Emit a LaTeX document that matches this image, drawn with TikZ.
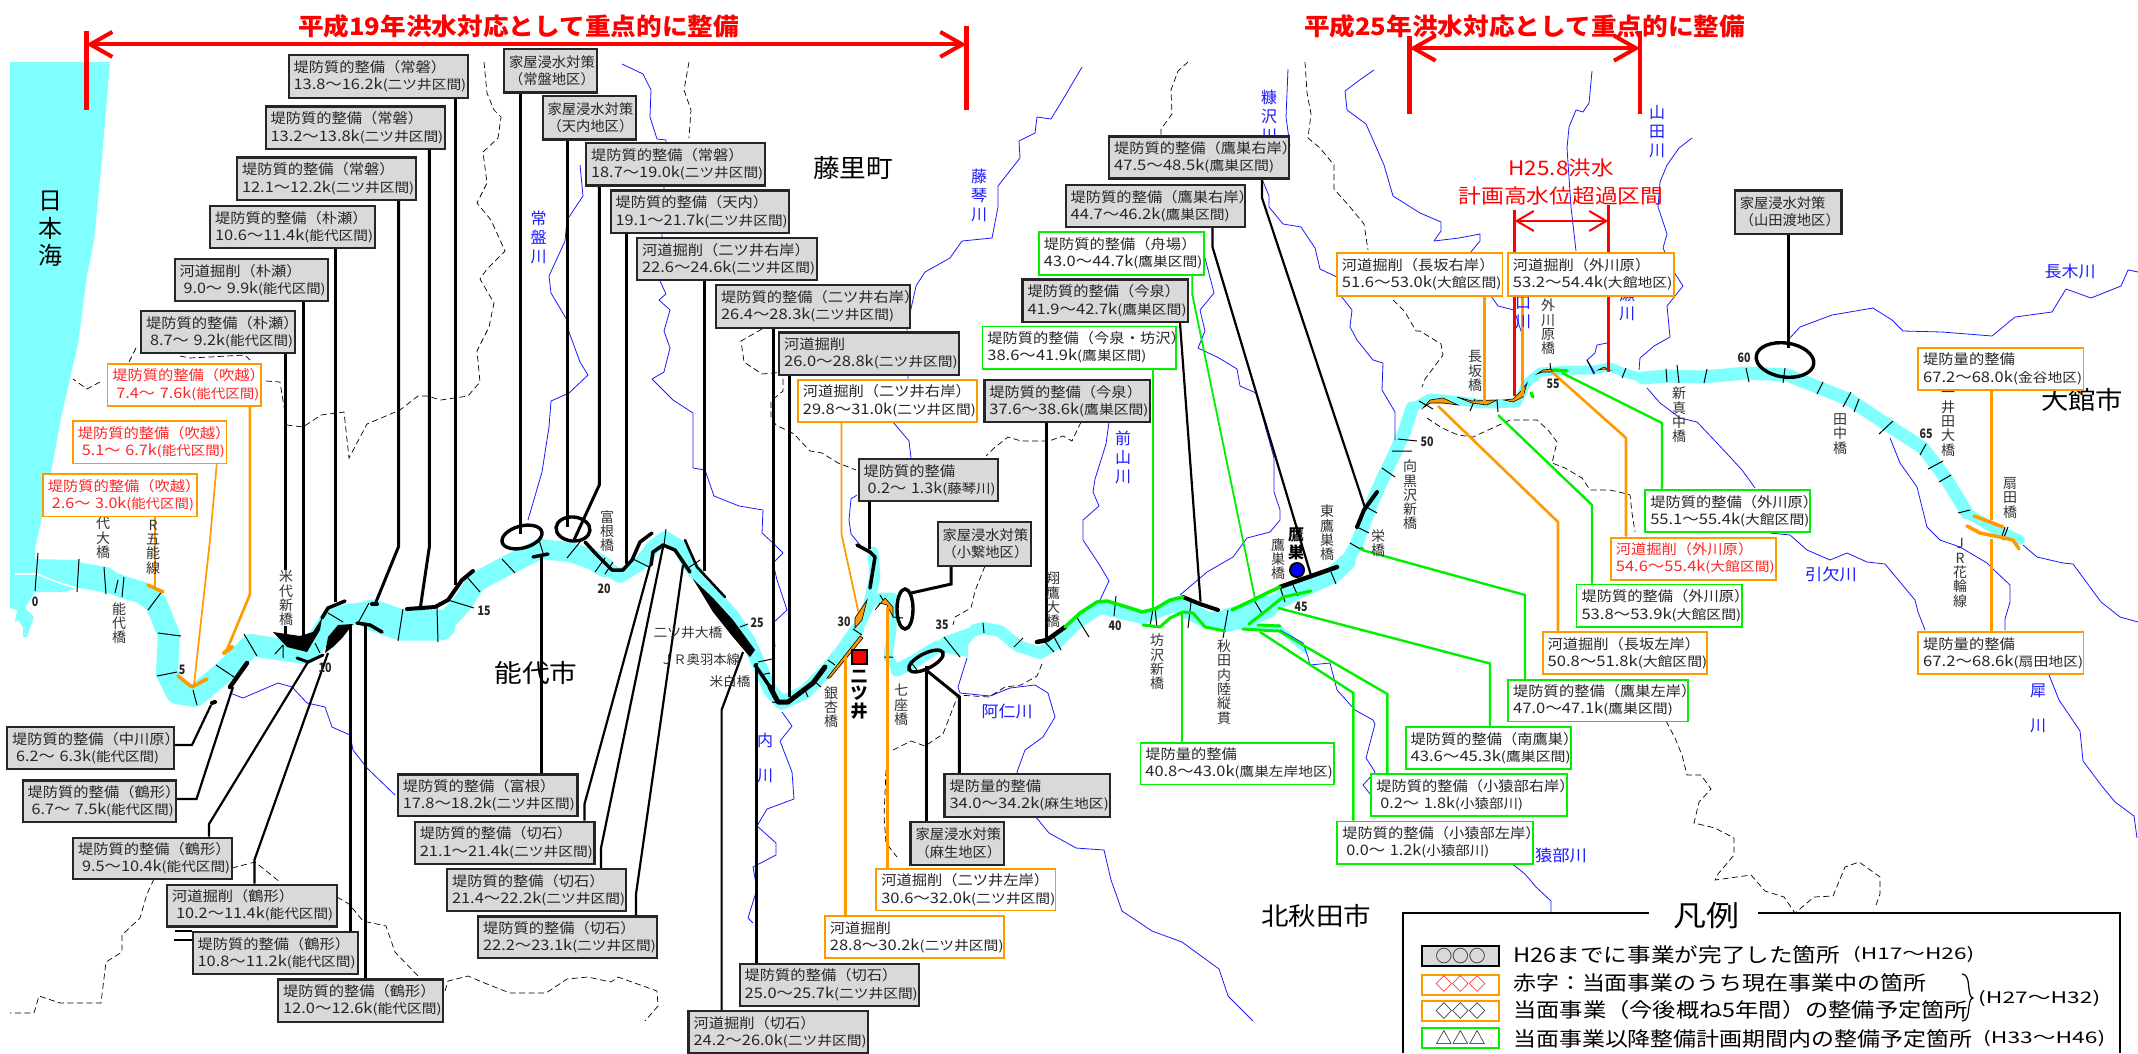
\documentclass[tikz,border=0pt]{standalone}
\usepackage{graphicx}
\usepackage{fontspec}
\setmainfont{Noto Sans CJK JP}
\usetikzlibrary{arrows.meta,shapes.geometric,calc}
\pgfdeclarelayer{bg}\pgfsetlayers{bg,main}
\definecolor{cy}{HTML}{80FFFF}
\definecolor{og}{HTML}{FF9900}
\definecolor{gn}{HTML}{00F000}
\definecolor{gy}{HTML}{D9D9D9}
\definecolor{rd}{HTML}{FF0000}
\definecolor{bu}{HTML}{1A1AFF}
\tikzset{
 basebox/.style={rectangle,inner xsep=5pt,inner ysep=0pt,align=left,font=\fontsize{13}{17.2}\selectfont,text=black!85},
 gbox/.style={basebox,draw=black!85,fill=gy,line width=2.2pt},
 obox/.style={basebox,draw=og,fill=white,line width=1.8pt},
 rbox/.style={basebox,draw=og,fill=white,line width=1.8pt,text=rd!85},
 nbox/.style={basebox,draw=gn,fill=white,line width=1.8pt},
 blk/.style={draw=black,line width=3pt},
 blkt/.style={draw=black,line width=2.2pt},
 org/.style={draw=og,line width=2.6pt},
 orgt/.style={draw=og,line width=1.7pt},
 grn/.style={draw=gn,line width=2.4pt},
 grnt/.style={draw=gn,line width=1.8pt},
 rvr/.style={draw=cy,line cap=round,line join=round},
 lev/.style={draw=black,line cap=round,line join=round},
 ola/.style={draw=og,line cap=round,line join=round},
 gla/.style={draw=gn,line cap=round,line join=round},
 tk/.style={draw=black,line width=1pt},
 crs/.style={draw=black,fill=og,line width=.6pt},
 wat/.style={draw=bu,line width=.8pt,line join=round},
 bnd/.style={draw=black,line width=.7pt,dash pattern=on 6pt off 3.5pt},
 ell/.style={ellipse,draw=black,line width=3.4pt,inner sep=0pt},
 vt/.style={align=center,inner sep=0pt,font=\fontsize{14}{14.3}\selectfont,text=black!80},
 kmn/.style={inner sep=0pt,font=\fontsize{13}{13}\selectfont\bfseries,text=black!85},
 blu/.style={align=center,inner sep=0pt,font=\fontsize{16}{19}\selectfont,text=bu},
 plc/.style={align=center,inner sep=0pt,text=black},
 red line/.style={draw=rd,line width=4.5pt},
}
\newcommand\lna[1]{\scalebox{1.09}[1]{\fontsize{14}{17.2}\selectfont #1}}
\def\lnsplit#1(#2\relax{{\fontsize{14.5}{17.2}\selectfont #1}(#2}
\newcommand\lnb[2]{\resizebox{#1pt}{\height}{\lnsplit#2\relax}}
\newcommand\ft[3]{{\fontsize{#2}{#2}\selectfont\resizebox{#1pt}{\height}{#3}}}
\def\ind{}
\newcommand\bx[9]{%
 \pgfmathsetmacro\bw{#5-#3}\pgfmathsetmacro\bh{#6-#4}\pgfmathsetmacro\bt{#5-#3-10}%
 \node[#1,anchor=north west,minimum width=\bw pt,minimum height=\bh pt,text width=\bt pt] (#2) at (#3,#4) {\lna{#7}\\\ind\lnb{#8}{#9}};}
\newcommand\bxi[9]{\def\ind{\hspace*{4pt}}\bx{#1}{#2}{#3}{#4}{#5}{#6}{#7}{#8}{#9}\def\ind{}}
\newcommand\kb[6]{%
 \pgfmathsetmacro\bw{#4-#2}\pgfmathsetmacro\bh{#5-#3}\pgfmathsetmacro\bt{#4-#2-10}%
 \node[gbox,anchor=north west,minimum width=\bw pt,minimum height=\bh pt,text width=\bt pt] (#1) at (#2,#3) {\scalebox{1.02}[1]{\fontsize{14}{17.2}\selectfont 家屋浸水対策}\\\scalebox{1.02}[1]{\fontsize{14}{17.2}\selectfont #6}};}
\newcommand\cn[5]{\coordinate (#2s) at (#3,0); \coordinate (#2e) at (#5); \draw[#1] (#2s |- #2.south) #4 -- (#2e);}
\newcommand\cnt[5]{\coordinate (#2s) at (#3,0); \coordinate (#2e) at (#5); \draw[#1] (#2s |- #2.north) #4 -- (#2e);}
\newcommand\cnr[5]{\coordinate (#2s) at (0,#3); \coordinate (#2e) at (#5); \draw[#1] (#2s -| #2.east) #4 -- (#2e);}
\newcommand\vl[4]{\node[vt] (#1) at (#2,#3) {#4};}
\newcommand\km[3]{\node[kmn] (km#3) at (#1,#2) {\scalebox{.82}[1]{#3}};}
\begin{document}
\begin{tikzpicture}[x=1pt,y=-1pt]
\useasboundingbox (0,0) rectangle (2138,1053);
% ---- boxes ----
\bx{gbox}{a1}{287.5}{54}{466.5}{97}{堤防質的整備（常磐）}{172.6}{13.8～16.2k(二ツ井区間)}
\bx{gbox}{a2}{264.5}{105.4}{444}{148}{堤防質的整備（常磐）}{172.6}{13.2～13.8k(二ツ井区間)}
\bx{gbox}{a3}{236}{156.4}{415}{199}{堤防質的整備（常磐）}{172}{12.1～12.2k(二ツ井区間)}
\bx{gbox}{a4}{209}{204.6}{374}{247}{堤防質的整備（朴瀬）}{158}{10.6～11.4k(能代区間)}
\bxi{gbox}{a5}{173.5}{257.6}{326.5}{300}{河道掘削（朴瀬）}{142}{9.0～ 9.9k(能代区間)}
\bxi{gbox}{a6}{140}{309.6}{293.5}{352}{堤防質的整備（朴瀬）}{143}{8.7～ 9.2k(能代区間)}
\bxi{rbox}{o1}{106.5}{362.7}{260}{405}{堤防質的整備（吹越）}{143}{7.4～ 7.6k(能代区間)}
\bxi{rbox}{o2}{72}{420}{225.5}{462.5}{堤防質的整備（吹越）}{143}{5.1～ 6.7k(能代区間)}
\bxi{rbox}{o3}{42}{473}{196}{515.6}{堤防質的整備（吹越）}{142}{2.6～ 3.0k(能代区間)}
\kb{k1}{503}{47.5}{596}{91.3}{（常盤地区）}
\kb{k2}{541.5}{94.7}{635}{138.4}{（天内地区）}
\bx{gbox}{a7}{585}{142.2}{764}{184.3}{堤防質的整備（常磐）}{172}{18.7～19.0k(二ツ井区間)}
\bx{gbox}{a8}{609.5}{189.4}{788}{232}{堤防質的整備（天内）}{172}{19.1～21.7k(二ツ井区間)}
\bx{gbox}{a9}{636}{236.6}{815.7}{279}{河道掘削（二ツ井右岸）}{173}{22.6～24.6k(二ツ井区間)}
\bx{gbox}{a10}{715}{284}{908.5}{326.5}{堤防質的整備（二ツ井右岸）}{173}{26.4～28.3k(二ツ井区間)}
\bx{gbox}{a11}{778}{331.3}{958}{373.7}{河道掘削}{173.6}{26.0～28.8k(二ツ井区間)}
\bx{obox}{o4}{797}{378.8}{976}{420.9}{河道掘削（二ツ井右岸）}{173}{29.8～31.0k(二ツ井区間)}
\bxi{gbox}{a12}{857.5}{458}{996.6}{500}{堤防質的整備}{128}{0.2～ 1.3k(藤琴川)}
\kb{k3}{936.5}{520.7}{1030}{564.5}{（小繋地区）}
\bx{gbox}{a13}{1108}{135.4}{1288}{177.4}{堤防質的整備（鷹巣右岸）}{160}{47.5～48.5k(鷹巣区間)}
\bx{gbox}{a14}{1064.6}{183.6}{1244}{226}{堤防質的整備（鷹巣右岸）}{159}{44.7～46.2k(鷹巣区間)}
\bx{nbox}{g1}{1038}{231}{1203}{273.8}{堤防質的整備（舟場）}{158.4}{43.0～44.7k(鷹巣区間)}
\bx{gbox}{a15}{1021.4}{278.3}{1186.8}{321}{堤防質的整備（今泉）}{159}{41.9～42.7k(鷹巣区間)}
\bx{nbox}{g2}{981.5}{325.5}{1175}{367.8}{堤防質的整備（今泉・坊沢）}{159}{38.6～41.9k(鷹巣区間)}
\bx{gbox}{a16}{983.3}{378.8}{1148.6}{420.9}{堤防質的整備（今泉）}{159}{37.6～38.6k(鷹巣区間)}
\bx{obox}{o5}{1336}{252.4}{1501.5}{294.8}{河道掘削（長坂右岸）}{159.5}{51.6～53.0k(大館区間)}
\bx{obox}{o6}{1507}{252.4}{1672.8}{294.8}{河道掘削（外川原）}{159.4}{53.2～54.4k(大館地区)}
\kb{k4}{1733.7}{189.4}{1840.4}{232.5}{（山田渡地区）}
\bx{obox}{o7}{1917.3}{346.8}{2082.6}{389.2}{堤防量的整備}{159}{67.2～68.0k(金谷地区)}
\bx{nbox}{g3}{1644.4}{489}{1809.2}{531.4}{堤防質的整備（外川原）}{159}{55.1～55.4k(大館区間)}
\bx{rbox}{o8}{1610}{536.7}{1775}{578.8}{河道掘削（外川原）}{158.6}{54.6～55.4k(大館区間)}
\bx{nbox}{g4}{1575.6}{583.6}{1740.8}{626}{堤防質的整備（外川原）}{159.6}{53.8～53.9k(大館区間)}
\bx{obox}{o9}{1541.7}{631}{1706.4}{673.3}{河道掘削（長坂左岸）}{159.6}{50.8～51.8k(大館区間)}
\bx{nbox}{g5}{1507.3}{678.8}{1686.7}{720.6}{堤防質的整備（鷹巣左岸）}{159.6}{47.0～47.1k(鷹巣区間)}
\bx{nbox}{g6}{1404.7}{726}{1570}{768.2}{堤防質的整備（南鷹巣）}{160}{43.6～45.3k(鷹巣区間)}
\bxi{nbox}{g7}{1370.4}{773.3}{1566}{815}{堤防質的整備（小猿部右岸）}{142.6}{0.2～ 1.8k(小猿部川)}
\bxi{nbox}{g8}{1336.4}{820.6}{1531.8}{862.7}{堤防質的整備（小猿部左岸）}{143}{0.0～ 1.2k(小猿部川)}
\bx{obox}{o10}{1917.3}{631}{2082.5}{673.3}{堤防量的整備}{160}{67.2～68.6k(扇田地区)}
\bx{nbox}{g9}{1139.5}{741.7}{1333.2}{783.5}{堤防量的整備}{187.3}{40.8～43.0k(鷹巣左岸地区)}
\bx{gbox}{a17}{943.4}{773}{1108.7}{815.5}{堤防量的整備}{159.3}{34.0～34.2k(麻生地区)}
\kb{k5}{909.4}{820.6}{1002.6}{863.7}{（麻生地区）}
\bx{obox}{o11}{875.4}{868}{1054.5}{909.6}{河道掘削（二ツ井左岸）}{174}{30.6～32.0k(二ツ井区間)}
\bx{obox}{o12}{824}{915.4}{1003}{957}{河道掘削}{173.6}{28.8～30.2k(二ツ井区間)}
\bx{gbox}{a18}{738.6}{962.7}{917.7}{1004.5}{堤防質的整備（切石）}{173}{25.0～25.7k(二ツ井区間)}
\bx{gbox}{a19}{687.4}{1010}{866.7}{1052}{河道掘削（切石）}{173}{24.2～26.0k(二ツ井区間)}
\bxi{gbox}{a20}{6}{726}{173}{768}{堤防質的整備（中川原）}{143}{6.2～ 6.3k(能代区間)}
\bxi{gbox}{a21}{21.6}{779.4}{175}{821}{堤防質的整備（鶴形）}{142}{6.7～ 7.5k(能代区間)}
\bxi{gbox}{a22}{72}{836.5}{231}{878}{堤防質的整備（鶴形）}{148}{9.5～10.4k(能代区間)}
\bxi{gbox}{a23}{166}{883.5}{336}{925.3}{河道掘削（鶴形）}{157}{10.2～11.4k(能代区間)}
\bx{gbox}{a24}{191.5}{931}{356.8}{973}{堤防質的整備（鶴形）}{158}{10.8～11.2k(能代区間)}
\bx{gbox}{a25}{277}{978.3}{442}{1020.5}{堤防質的整備（鶴形）}{158.4}{12.0～12.6k(能代区間)}
\bx{gbox}{a26}{396.7}{773.3}{576.3}{815}{堤防質的整備（富根）}{172}{17.8～18.2k(二ツ井区間)}
\bx{gbox}{a27}{413.7}{820.6}{593.3}{862.7}{堤防質的整備（切石）}{173}{21.1～21.4k(二ツ井区間)}
\bx{gbox}{a28}{445.9}{868}{624.5}{910}{堤防質的整備（切石）}{173}{21.4～22.2k(二ツ井区間)}
\bx{gbox}{a29}{477}{915.4}{656}{957}{堤防質的整備（切石）}{172.6}{22.2～23.1k(二ツ井区間)}
% ---- titles, legend (front) ----
\node[text=rd,inner sep=0pt] (t1) at (518.5,26) {\bfseries\ft{441}{24}{平成19年洪水対応として重点的に整備}};
\node[text=rd,inner sep=0pt] (t2) at (1524.5,26) {\bfseries\ft{441}{24}{平成25年洪水対応として重点的に整備}};
\node[text=rd,inner sep=0pt] (t3) at (1561,168) {\ft{105}{20}{H25.8洪水}};
\node[text=rd,inner sep=0pt] (t4) at (1561,195.6) {\ft{205}{20}{計画高水位超過区間}};
\draw[black,line width=2pt] (1402.5,1053) -- (1402.5,913) -- (1649,913);
\draw[black,line width=2pt] (1758,913) -- (2120,913) -- (2120,1053);
\node[plc] (lt) at (1706,916) {\ft{66}{29}{凡例}};
\tikzset{sw/.style={rectangle,minimum width=77pt,minimum height=20pt,inner sep=0pt,fill=white}}
\node[sw,draw=black,fill=gy,line width=2pt] (s1) at (1460.5,955.8) {\ft{50}{17}{○○○}};
\node[sw,draw=og,line width=2pt,text=rd] (s2) at (1460.5,984.5) {\ft{50}{17}{◇◇◇}};
\node[sw,draw=og,line width=2pt] (s3) at (1460.5,1010.8) {\ft{50}{17}{◇◇◇}};
\node[sw,draw=gn,line width=2pt] (s4) at (1460.5,1037.6) {\ft{50}{17}{△△△}};
\node[plc,anchor=west] (l1) at (1513,955) {\ft{327}{20}{H26までに事業が完了した箇所}};
\node[plc,anchor=west] (l1b) at (1853,955) {\ft{121}{16}{(H17～H26)}};
\node[plc,anchor=west] (l2) at (1513,983) {\ft{413}{20}{赤字：当面事業のうち現在事業中の箇所}};
\node[plc,anchor=west] (l3) at (1513,1010) {\ft{455}{20}{当面事業（今後概ね5年間）の整備予定箇所}};
\node[plc,anchor=west] (l4) at (1513,1038.5) {\ft{459}{20}{当面事業以降整備計画期間内の整備予定箇所}};
\node[plc,anchor=west] (l4b) at (1983,1038.5) {\ft{122}{16}{(H33～H46)}};
\node[plc,anchor=west] (l23) at (1978,999) {\ft{122}{16}{(H27～H32)}};
\draw[black,line width=1.2pt] (1962,974) .. controls (1972,974) and (1966,997) .. (1973,998) .. controls (1966,999) and (1972,1021) .. (1962,1021);
% ---- background content ----
\begin{pgfonlayer}{bg}
\fill[white] (0,0) rectangle (2138,1053);
% sea
\fill[cy] (10,62)--(110,62)--(102,158)--(94,241)--(87,275)--(78,344)--(62,413)--(46,499)--(35,548)--(35,575)--(10,575)--cycle;
\fill[cy] (10,573)--(10,608)--(17,610)--(15,622)--(18,620)--(23,627)--(23,637)--(27,637)--(34,617)--(25,608)--(35,592)--(62,592)--(80,588)--(33,575)--cycle;
% river
\draw[rvr,line width=28pt,line cap=butt] (30,573)--(80,574);
\draw[rvr,line width=26pt] (70,574)--(105,580);
\draw[rvr,line width=22pt] (105,580)--(123,587)--(143,593)--(156,603)--(169,635)--(167,673)--(177,693)--(195,696)--(225,671)--(251,645)--(283,650)--(307,653)--(320,637)--(333,617)--(364,613);
\draw[rvr,line width=31pt] (372,615)--(401,625)--(440,625);
\draw[rvr,line width=20pt] (445,622)--(462,604)--(476,582)--(508,565)--(540,549)--(570,552)--(593,560)--(604,567);
\draw[rvr,line width=14pt] (604,567)--(620,576)--(641,563)--(653,547)--(665,538)--(680,547)--(688,563)--(707,587)--(733,617)--(748,640)--(760,667)--(770,690)--(782,703)--(805,692)--(827,670)--(843,650)--(857,630);
\draw[rvr,line width=11pt] (857,630)--(868,607)--(875,577)--(873,552);
\draw[rvr,line width=9pt] (868,606)--(880,597)--(893,597)--(892,630)--(888,657)--(897,670);
\draw[rvr,line width=13pt] (897,670)--(913,662)--(937,647);
\fill[cy] (930,648)--(943,637)--(983,623)--(983,633)--(975,636)--(968,645)--(968,657)--(945,653)--cycle;
\draw[rvr,line width=12pt] (975,630)--(983,628)--(1000,631)--(1018,646)--(1040,653)--(1057,643)--(1077,623)--(1100,608)--(1117,612)--(1143,618)--(1163,610)--(1178,605);
\draw[rvr,line width=17pt] (1178,605)--(1207,620)--(1228,620);
\draw[rvr,line width=23pt] (1228,620)--(1253,613)--(1267,607);
\draw[rvr,line width=17pt] (1267,607)--(1297,591)--(1333,575)--(1347,562);
\draw[rvr,line width=13pt] (1347,562)--(1357,543)--(1372,503)--(1382,480)--(1395,453)--(1405,430)--(1412,408);
\draw[rvr,line width=9pt] (1412,408)--(1430,398)--(1453,400)--(1483,404)--(1517,403)--(1527,383)--(1540,372)--(1570,370)--(1593,370)--(1610,367)--(1625,373)--(1643,378);
\draw[rvr,line width=13pt] (1643,378)--(1667,376)--(1703,377)--(1747,373)--(1787,375)--(1820,388)--(1850,400)--(1883,422)--(1923,448)--(1947,480)--(1967,513);
\draw[rvr,line width=10pt] (1967,513)--(1993,528)--(2020,540);
\draw[rvr,line width=6pt] (1240,627)--(1278,627)--(1305,650);
\draw[white,line width=1.6pt] (15,574)--(37,574)--(57,582)--(80,589)--(103,593);
% blue streams
\draw[wat] (580,165)--(583,196)--(567,220)--(565,241)--(549,276)--(551,293)--(567,320)--(569,332)--(580,362)--(588,375)--(569,393)--(551,401)--(549,427)--(542,472)--(528,520);
\draw[wat] (622,64)--(643,74)--(651,90)--(650,117)--(657,139)--(666,140)--(660,281)--(666,294)--(659,300)--(670,310)--(664,331)--(670,348)--(664,372)--(652,379)--(673,400)--(693,413)--(693,468)--(705,470)--(714,496)--(739,506)--(763,510)--(762,533)--(773,543)--(783,553)--(773,563)--(777,580)--(787,610)--(773,623)--(775,647);
\draw[wat] (782,712)--(792,726)--(780,741)--(792,772)--(794,799)--(767,809)--(757,826)--(776,843)--(776,855)--(753,867)--(757,889)--(748,918)--(753,923);
\draw[wat] (1082,67)--(1065,96)--(1051,119)--(1037,117)--(1035,133)--(1019,141)--(1020,158)--(998,186)--(998,207)--(992,238)--(962,241)--(950,258)--(925,272)--(916,286)--(907,327)--(908,379)--(893,422)--(909,441)--(911,458);
\draw[wat] (857,495)--(851,499)--(849,520)--(851,534)--(860,545);
\draw[wat] (1109,422)--(1106,444)--(1095,479)--(1093,492)--(1099,506)--(1083,520)--(1083,540)--(1099,564)--(1109,581)--(1100,600);
\draw[wat] (1288,69)--(1286,117)--(1290,146);
\draw[wat] (1205,258)--(1214,293)--(1200,310)--(1205,331)--(1198,348)--(1219,358)--(1237,369)--(1240,386)--(1256,393)--(1274,458)--(1274,492)--(1280,510)--(1280,520)--(1270,532)--(1247,538)--(1233,557)--(1207,572)--(1180,595);
\draw[wat] (1262,179)--(1269,196)--(1269,207)--(1283,224)--(1301,227)--(1315,248)--(1320,269)--(1341,279)--(1341,296)--(1352,310)--(1350,327)--(1357,340)--(1373,360)--(1383,363)--(1382,390)--(1395,412)--(1395,440);
\draw[wat] (1374,70)--(1361,79)--(1345,91)--(1347,110)--(1366,124)--(1384,165)--(1393,196)--(1420,213)--(1441,222)--(1441,231)--(1434,241)--(1459,238)--(1480,234)--(1480,241)--(1470,253);
\draw[wat] (1491,296)--(1498,306)--(1514,310)--(1522,334)--(1523,362);
\draw[wat] (1592,71)--(1589,103)--(1583,112)--(1576,110)--(1569,127)--(1567,148)--(1571,207)--(1576,251);
\draw[wat] (1692,138)--(1679,148)--(1667,165)--(1660,182)--(1658,207)--(1667,234)--(1663,248)--(1674,272)--(1683,286)--(1667,306)--(1670,337)--(1654,346)--(1640,358)--(1639,370);
\draw[wat] (1607,343)--(1597,345)--(1595,353)--(1587,360)--(1595,373);
\draw[wat] (1789,339)--(1800,327)--(1832,315)--(1873,308)--(1892,320)--(1903,331)--(1942,332)--(1992,336)--(2015,317)--(2052,312)--(2066,289)--(2091,298)--(2121,286)--(2128,270)--(2138,272);
\draw[wat] (1647,388)--(1660,403)--(1680,418)--(1697,422)--(1717,443)--(1730,457)--(1742,470)--(1755,488);
\draw[wat] (1770,533)--(1790,535)--(1807,550)--(1830,560)--(1847,553)--(1867,562)--(1885,564)--(1915,600)--(1918,612)--(1925,630);
\draw[wat] (1890,438)--(1900,463)--(1917,487)--(1922,507)--(1927,527)--(1940,540)--(1960,547)--(1987,563)--(1993,569)--(2010,585)--(2010,602)--(2005,619)--(2005,630);
\draw[wat] (2023,545)--(2037,557)--(2063,563)--(2073,564)--(2101,602)--(2120,617)--(2138,622);
\draw[wat] (2049,675)--(2059,700)--(2080,731)--(2083,761)--(2101,785)--(2115,802)--(2134,816)--(2137,838);
\draw[wat] (1511,863)--(1525,874)--(1536,887)--(1551,901)--(1551,913);
\draw[wat] (967,658)--(958,687)--(960,693)--(990,696)--(1010,688)--(1035,685)--(1048,693)--(1055,717)--(1043,737)--(1025,750)--(1017,772)--(1035,816)--(1049,833)--(1076,848)--(1104,850)--(1111,880)--(1122,911)--(1152,931)--(1182,942)--(1219,969)--(1228,996)--(1253,1021);
\draw[wat] (1280,630)--(1303,643)--(1308,657)--(1310,665)--(1330,663)--(1337,690)--(1355,710)--(1373,720)--(1375,724)--(1366,758)--(1375,772)--(1363,785)--(1370,794);
\draw[wat] (230,693)--(243,698)--(278,683)--(292,687)--(307,703)--(325,707)--(332,727)--(350,735)--(353,750)--(367,768)--(395,795);
% boundaries
\draw[bnd] (484,62)--(487,93)--(494,110)--(501,117)--(498,138)--(483,152)--(487,183)--(477,203)--(491,220)--(505,251)--(487,269)--(480,279)--(494,303)--(489,327)--(477,351)--(480,382)--(468,396)--(441,400)--(427,396)--(418,396)--(400,410)--(367,424)--(349,458)--(344,412)--(321,415)--(303,427)--(287,425)--(280,382)--(266,381);
\draw[bnd] (100,382)--(87,389)--(73,379);
\draw[bnd] (180,356)--(190,358)--(210,357)--(245,355)--(250,360);
\draw[bnd] (136,348)--(129,362);
\draw[bnd] (689,62)--(684,90)--(691,110)--(689,138);
\draw[bnd] (762,329)--(741,341)--(744,362)--(762,374)--(783,372)--(783,391)--(771,401)--(771,417)--(776,425)--(794,434)--(810,451)--(822,453)--(838,463)--(856,470);
\draw[bnd] (1081,422)--(1072,441)--(1063,436)--(1049,441)--(1021,441)--(1008,437)--(994,448)--(986,456);
\draw[bnd] (1188,62)--(1178,71)--(1171,90)--(1172,114)--(1161,129)--(1161,135);
\draw[bnd] (1305,62)--(1307,93)--(1311,114)--(1308,138)--(1320,148)--(1334,165)--(1334,189)--(1350,207)--(1364,224)--(1368,250);
\draw[bnd] (1393,300)--(1405,312)--(1416,331)--(1420,331)--(1441,344)--(1443,355)--(1425,379)--(1422,387);
\draw[bnd] (1427,418)--(1442,428)--(1458,435)--(1473,437)--(1510,420)--(1537,420)--(1548,430)--(1557,442)--(1552,463)--(1565,468)--(1582,478)--(1590,490)--(1610,490)--(1623,493)--(1630,495)--(1632,513)--(1635,532);
\draw[bnd] (1666,721)--(1675,738)--(1682,755)--(1687,775)--(1701,775)--(1711,789)--(1699,802)--(1694,823)--(1715,828)--(1734,838)--(1734,855)--(1718,874)--(1715,880)--(1751,875)--(1765,891)--(1784,897)--(1795,913)--(1814,897)--(1833,896)--(1845,867)--(1859,862)--(1880,877)--(1880,894)--(1875,908);
\draw[bnd] (985,566)--(975,591)--(971,608)--(955,617)--(953,625);
\draw[bnd] (1042,664)--(1037,676)--(1021,685)--(1005,687)--(989,697)--(958,695)--(943,734)--(925,746)--(911,741)--(893,750);
\draw[bnd] (886,770)--(884,816)--(886,843)--(897,857);
\draw[bnd] (232,868)--(255,862)--(280,882);
\draw[bnd] (337,897)--(349,904)--(363,921)--(386,926)--(395,952)--(418,976);
\draw[bnd] (445,991)--(448,981)--(468,976)--(487,984)--(510,993)--(546,993)--(567,979)--(588,977)--(611,982)--(618,977)--(657,991)--(658,1006)--(645,1021);
\draw[bnd] (154,879)--(147,894)--(140,918)--(122,935)--(122,952)--(106,962)--(101,1003)--(60,1003)--(39,996)--(34,1013)--(10,1013);
% fragments of a covered label
\draw[black,line width=1.2pt] (175,931)--(192,931);
\draw[black,line width=1.2pt] (174,940)--(192,940);
% ticks
\draw[tk] (38,553)--(35,591) (79,559)--(77,592) (104,567)--(106,594) (118,580)--(115,593) (124,577)--(122,597) (163,590)--(148,610) (158,633)--(181,636) (157,676)--(177,672) (193,690)--(197,705) (216,665)--(234,677) (244,634)--(257,656) (283,645)--(275,654) (283,645)--(283,658) (315,643)--(320,653) (328,613)--(343,622) (369,603)--(358,623) (403,609)--(398,641) (437,608)--(438,642) (448,600)--(474,608) (467,577)--(480,592);
\draw[tk] (502,559)--(515,573) (539,540)--(543,553) (580,542)--(567,558) (605,558)--(595,572) (613,562)--(605,574) (633,559)--(649,567) (666,529)--(664,545) (700,560)--(688,568) (740,627)--(748,624) (758,662)--(772,659) (760,675)--(770,673) (772,702)--(782,703) (805,690)--(808,697) (815,682)--(821,687) (828,660)--(835,665) (853,629)--(862,635) (880,595)--(883,600) (893,617)--(903,618) (884,657)--(893,657) (910,661)--(917,670);
\draw[tk] (944,637)--(960,657) (983,623)--(984,633) (1023,638)--(1014,647) (1045,642)--(1054,652) (1054,637)--(1061,650) (1076,616)--(1089,637) (1116,596)--(1114,616) (1153,609)--(1150,626) (1155,608)--(1157,628) (1191,602)--(1188,628) (1228,610)--(1223,638) (1254,600)--(1263,615) (1280,587)--(1285,602) (1293,585)--(1298,596) (1331,572)--(1336,584) (1350,543)--(1362,550);
\draw[tk] (1357,527)--(1369,533) (1368,508)--(1377,513) (1382,468)--(1395,477) (1392,451)--(1412,451) (1398,439)--(1417,441) (1419,401)--(1433,409) (1475,399)--(1470,411) (1497,400)--(1498,412) (1550,363)--(1551,372) (1587,360)--(1594,374) (1626,368)--(1622,378) (1666,369)--(1667,382) (1677,365)--(1679,383) (1707,369)--(1704,383) (1746,368)--(1749,382) (1785,368)--(1783,383);
\draw[tk] (1823,382)--(1817,394) (1851,392)--(1843,407) (1859,399)--(1854,412) (1893,421)--(1879,434) (1926,444)--(1920,455) (1943,461)--(1928,469) (1951,475)--(1939,482) (1970,510)--(1958,513) (2008,527)--(2003,540) (2005,527)--(2001,539);
% black levees
\draw[lev,line width=4pt] (212,703)--(215,702);
\draw[lev,line width=4.5pt] (230,687)--(247,663);
\fill[black] (273,632)--(300,636)--(313,632)--(322,618)--(320,630)--(307,652)--(287,647)--cycle;
\draw[lev,line width=3.5pt] (322,618)--(328,608)--(345,601);
\fill[black] (325,653)--(328,637)--(338,625)--(353,624)--(343,637)--(333,647)--cycle;
\draw[lev,line width=3pt] (297,658)--(308,662)--(323,655);
\draw[lev,line width=3.5pt] (357,623)--(370,625)--(382,632);
\draw[lev,line width=4pt] (372,604)--(377,604);
\draw[lev,line width=4pt] (407,609)--(435,607)--(448,600)--(462,580)--(473,571);
\draw[lev,line width=3.5pt] (533,557)--(548,554);
\draw[lev,line width=3.5pt] (585,542)--(597,555)--(612,570)--(623,570)--(632,560)--(640,542)--(652,533);
\draw[lev,line width=3.5pt] (651,565)--(653,552)--(663,545)--(675,550)--(690,572);
\draw[lev,line width=2.5pt] (685,540)--(697,567)--(725,597);
\fill[black] (693,579)--(713,598)--(733,620)--(755,650)--(750,657)--(733,637)--(713,612)--cycle;
\draw[lev,line width=3.5pt] (755,665)--(770,687);
\draw[lev,line width=5pt] (770,687)--(778,702)--(788,702)--(813,683)--(825,667);
\draw[lev,line width=3.5pt] (857,545)--(870,552)--(875,557)--(870,588);
\draw[lev,line width=4.5pt] (1037,642)--(1047,640)--(1065,627);
\draw[lev,line width=4pt] (1183,597)--(1200,604)--(1218,610);
\draw[lev,line width=4.5pt] (1280,587)--(1337,567);
\draw[lev,line width=4pt] (1357,527)--(1364,510)--(1377,492);
% green levees
\draw[gla,line width=3.5pt] (1065,627)--(1080,613)--(1097,602)--(1107,601)--(1130,608)--(1142,612)--(1155,609)--(1170,600)--(1183,597);
\draw[gla,line width=3pt] (1143,625)--(1160,627)--(1170,618)--(1183,612)--(1193,613)--(1205,627)--(1225,631);
\draw[gla,line width=3.5pt] (1232,610)--(1253,600)--(1267,593)--(1280,587);
\draw[gla,line width=3pt] (1249,624)--(1267,610)--(1283,597)--(1311,591);
\draw[gla,line width=3pt] (1243,629)--(1277,631);
\draw[gla,line width=3pt] (1258,625)--(1280,626);
\draw[gla,line width=3.5pt] (1553,370)--(1567,371);
\draw[gla,line width=3.5pt] (1531,393)--(1533,397);
\draw[gla,line width=3pt] (1361,548)--(1363,549);
% orange levees
\draw[ola,line width=3.5pt] (148,585)--(163,592);
\draw[ola,line width=3.5pt] (178,676)--(192,687)--(207,679);
\draw[ola,line width=4pt] (224,653)--(232,647);
\fill[crs] (855,628)--(855,618)--(867,600)--(862,620)--cycle;
\fill[crs] (875,610)--(885,598)--(893,607)--(893,617)--(887,605)--(880,603)--cycle;
\fill[crs] (827,678)--(860,636)--(863,638)--(830,678)--cycle;
\fill[crs] (1423,408)--(1430,400)--(1443,398)--(1458,405)--(1443,403)--(1430,403)--cycle;
\fill[crs] (1457,397)--(1472,401)--(1497,400)--(1487,405)--(1472,403)--cycle;
\fill[crs] (1504,400)--(1513,402)--(1523,397)--(1527,383)--(1522,390)--(1513,399)--cycle;
\fill[crs] (1537,374)--(1543,370)--(1551,369)--(1553,372)--(1543,372)--cycle;
\fill[crs] (1598,370)--(1604,367)--(1610,370)--(1604,369)--cycle;
\draw[ola,line width=3.5pt] (1974,516)--(1990,522)--(2003,527);
\draw[ola,line width=3.5pt] (1967,526)--(1980,533)--(2000,537)--(2013,540)--(2019,549);
% ellipses
\node[ell,minimum width=41pt,minimum height=22pt,rotate=15] (e1) at (522,537) {};
\node[ell,minimum width=34pt,minimum height=24pt,rotate=-5] (e2) at (573,529) {};
\node[ell,minimum width=16pt,minimum height=40pt] (e3) at (905,609) {};
\node[ell,minimum width=38pt,minimum height=15pt,rotate=27] (e4) at (926,661) {};
\node[ell,minimum width=58pt,minimum height=34pt,rotate=-8] (e5) at (1785,360) {};
% red spans
\coordinate (ra1) at (86.3,44.4); \coordinate (ra2) at (966.3,44.4);
\draw[rd,line width=4pt,{Straight Barb[length=22pt,width=25pt]}-{Straight Barb[length=22pt,width=25pt]}] (ra1) -- (ra2);
\draw[red line] (86.3,31)--(86.3,109.5);
\draw[red line] (966.3,26)--(966.3,109.5);
\coordinate (rb1) at (1409.5,48.2); \coordinate (rb2) at (1640,48.2);
\draw[rd,line width=4pt,{Straight Barb[length=22pt,width=25pt]}-{Straight Barb[length=22pt,width=25pt]}] (rb1) -- (rb2);
\draw[red line] (1409.5,36)--(1409.5,113.6);
\draw[red line] (1640,31)--(1640,113.6);
\coordinate (rc1) at (1514.8,221); \coordinate (rc2) at (1608.2,221);
\draw[rd,line width=2pt,{Straight Barb[length=17pt,width=20pt]}-{Straight Barb[length=17pt,width=20pt]}] (rc1) -- (rc2);
\coordinate (rd1) at (1514.8,210); \coordinate (rd2) at (1514.8,396);
\coordinate (re1) at (1608.2,205); \coordinate (re2) at (1608.2,372);
\draw[draw=rd,line width=3pt] (rd1)--(rd2) (re1)--(re2);
% red square and city dot
\node[rectangle,draw=black,fill=red,line width=2pt,minimum width=15pt,minimum height=14pt,inner sep=0pt] (sq) at (859.5,656.5) {};
\node[circle,draw=black,fill=blue,line width=2pt,minimum size=14pt,inner sep=0pt] (dot) at (1297,570) {};
% connectors
\cn{blk}{a1}{455.5}{}{455.5,585}
\cn{blk}{a2}{429.4}{-- (429.4,546.5)}{420,610}
\cn{blk}{a3}{398.6}{-- (398.6,546.5)}{375.6,603}
\cn{blk}{a4}{335}{}{335,601.6}
\cn{blk}{a5}{303.5}{}{303.5,639}
\cn{blk}{a6}{285}{}{285,635.6}
\cn{org}{o1}{249.8}{-- (249.8,594.8)}{226.4,651}
\cn{orgt}{o2}{216.7}{-- (210,540)}{193.8,686.6}
\cn{org}{o3}{154.8}{}{154.8,588}
\cn{blk}{k1}{520.7}{}{520.7,533.6}
\cn{blk}{k2}{567.6}{}{567.6,527}
\cn{blk}{a7}{599.3}{-- (599.3,485)}{574,540}
\cn{blk}{a8}{626.4}{}{626.4,564}
\cn{blk}{a9}{704.4}{}{704.4,571}
\cn{blk}{a10}{773.5}{}{773.5,697}
\cn{blk}{a11}{789.5}{}{789.5,697}
\cn{orgt}{o4}{841.4}{-- (841.4,533.6)}{858.4,612}
\cn{blk}{a12}{869}{}{869,549}
\cn{blk}{k3}{951.2}{-- (951.2,584)}{911.2,593}
\cn{blkt}{a13}{1262}{-- (1262,198)}{1365.8,510}
\cn{blkt}{a14}{1212.5}{-- (1212.5,247)}{1310.7,574.4}
\cn{grnt}{g1}{1192.3}{-- (1192.3,294.5)}{1255.6,601.6}
\cn{blkt}{a15}{1180}{}{1200.5,601.6}
\cn{grn}{g2}{1153.2}{}{1153.2,608}
\cn{blk}{a16}{1046.7}{}{1046.7,639}
\cn{org}{o5}{1484.6}{}{1484.6,401.2}
\cn{org}{o6}{1522.6}{}{1522.6,396}
\cn{blk}{k4}{1788}{}{1788,348}
\cn{org}{o7}{1991.5}{}{1991.5,520}
\cnt{grn}{g3}{1662}{-- (1662,423)}{1562,373}
\cnt{grn}{g4}{1592}{-- (1592,505)}{1498,415}
\cnt{org}{o8}{1626}{-- (1626,438)}{1552,372}
\cnt{org}{o9}{1558}{-- (1558,522)}{1438,406}
\cnt{grn}{g5}{1525}{-- (1525,595)}{1362,550}
\cnt{grn}{g6}{1490}{-- (1490,663.5)}{1278,608}
\cnt{grn}{g7}{1387.4}{-- (1387.4,694)}{1277,630}
\cnt{grn}{g8}{1353.4}{-- (1353.4,693)}{1260,632}
\cnt{grn}{g9}{1182}{}{1182,612}
\cnt{blk}{a17}{959.4}{-- (959.4,697)}{927.3,671}
\cnt{blk}{k5}{926.4}{}{926.4,666}
\cnt{org}{o11}{887.3}{}{887.3,607}
\cnt{org}{o12}{845.6}{}{845.6,657}
\cnt{blk}{a18}{756}{}{756,663}
\cnt{blkt}{a19}{721.6}{-- (721.6,710)}{743,652}
\cnt{blk}{a24}{350.4}{}{350.4,624}
\cnt{blk}{a25}{365}{}{365,623}
\cnt{blk}{a26}{541}{}{541,557}
\cnt{blkt}{a27}{584.5}{-- (584.5,804)}{650,565}
\cnt{blkt}{a28}{601}{-- (601,848)}{663,547}
\cnt{blkt}{a29}{636}{-- (636,894)}{683,565}
\cnt{blkt}{a22}{209}{-- (209,824)}{308,662}
\cnt{blkt}{a23}{254.4}{-- (254.4,860)}{328,653}
\cnt{org}{o10}{1991.7}{}{1991.7,538.7}
\cnr{blkt}{a20}{745}{-- (192,745)}{211,705}
\cnr{blkt}{a21}{799}{-- (196.5,799)}{233,687}
% bridge labels
\vl{v1}{103}{538}{代\\大\\橋}
\vl{v2}{153}{540}{J\\R\\五\\能\\線}
\vl{v3}{119}{623}{能\\代\\橋}
\node[vt,fill=white] (v4) at (286,598) {米\\代\\新\\橋};
\vl{v5}{607}{531}{富\\根\\橋}
\node[vt] (h1) at (688,633) {\ft{69}{13}{二ツ井大橋}};
\node[vt] (h2) at (700,660) {\ft{80}{13}{ＪＲ奥羽本線}};
\node[vt] (h3) at (730,682) {\ft{41}{13}{米白橋}};
\vl{v6}{831}{707}{銀\\杏\\橋}
\vl{v7}{901}{705}{七\\座\\橋}
\vl{v8}{1053}{600}{翔\\鷹\\大\\橋}
\vl{v9}{1157}{662}{坊\\沢\\新\\橋}
\vl{v10}{1224}{682}{秋\\田\\内\\陸\\縦\\貫}
\vl{v11}{1278}{559}{鷹\\巣\\橋}
\vl{v12}{1327}{533}{東\\鷹\\巣\\橋}
\vl{v13}{1378}{543}{栄\\橋}
\vl{v14}{1410}{495}{向\\黒\\沢\\新\\橋}
\vl{v15}{1475}{371}{長\\坂\\橋}
\vl{v16}{1548}{327}{外\\川\\原\\橋}
\vl{v17}{1679}{415}{新\\真\\中\\橋}
\vl{v18}{1840}{434}{田\\中\\橋}
\vl{v19}{1948}{424}{一\\井\\田\\大\\橋}
\vl{v20}{2010}{498}{扇\\田\\橋}
\vl{v21}{1960}{573}{J\\R\\花\\輪\\線}
\node[plc,font=\fontsize{16}{18}\selectfont\bfseries] (v22) at (1296,543) {鷹\\巣};
\node[plc,font=\fontsize{17}{17.5}\selectfont\bfseries] (v23) at (859,694.5) {二\\ツ\\井};
% km numbers
\km{35}{602}{0}\km{182}{670}{5}\km{325}{668}{10}\km{484}{611}{15}\km{604}{589}{20}\km{757}{623}{25}\km{844}{622}{30}\km{942}{625}{35}\km{1115}{626}{40}\km{1301}{607}{45}\km{1427}{442}{50}\km{1553}{384}{55}\km{1744}{358}{60}\km{1926}{434}{65}
% place names
\node[plc,font=\fontsize{24}{27.5}\selectfont] (p1) at (50,229) {日\\本\\海};
\node[plc] (p2) at (853,168) {\ft{80}{25}{藤里町}};
\node[plc] (p3) at (536,673) {\ft{83}{25}{能代市}};
\node[plc] (p4) at (2082,399.5) {\ft{82}{25}{大館市}};
\node[plc] (p5) at (1316,916) {\ft{110}{25}{北秋田市}};
% stream names
\node[blu] (b1) at (538.6,237.6) {常\\盤\\川};
\node[blu] (b2) at (979,195) {藤\\琴\\川};
\node[blu] (b3) at (1269,116) {糠\\沢\\川};
\node[blu] (b4) at (1123,457) {前\\山\\川};
\node[blu] (b5) at (1657,132) {山\\田\\川};
\node[blu] (b6) at (1627,304) {瀬\\川};
\node[blu] (b7) at (1523,313) {口\\川};
\node[blu] (b8) at (1007,711) {\ft{51}{16}{阿仁川}};
\node[blu,font=\fontsize{16}{35}\selectfont] (b9) at (765,758) {内\\川};
\node[blu] (b10) at (1561,855) {\ft{52}{16}{猿部川}};
\node[blu] (b11) at (1831,574) {\ft{52}{16}{引欠川}};
\node[blu] (b12) at (2070,271) {\ft{51}{16}{長木川}};
\node[blu,font=\fontsize{16}{35}\selectfont] (b13) at (2038,708.5) {犀\\川};
\end{pgfonlayer}
\end{tikzpicture}
\end{document}
